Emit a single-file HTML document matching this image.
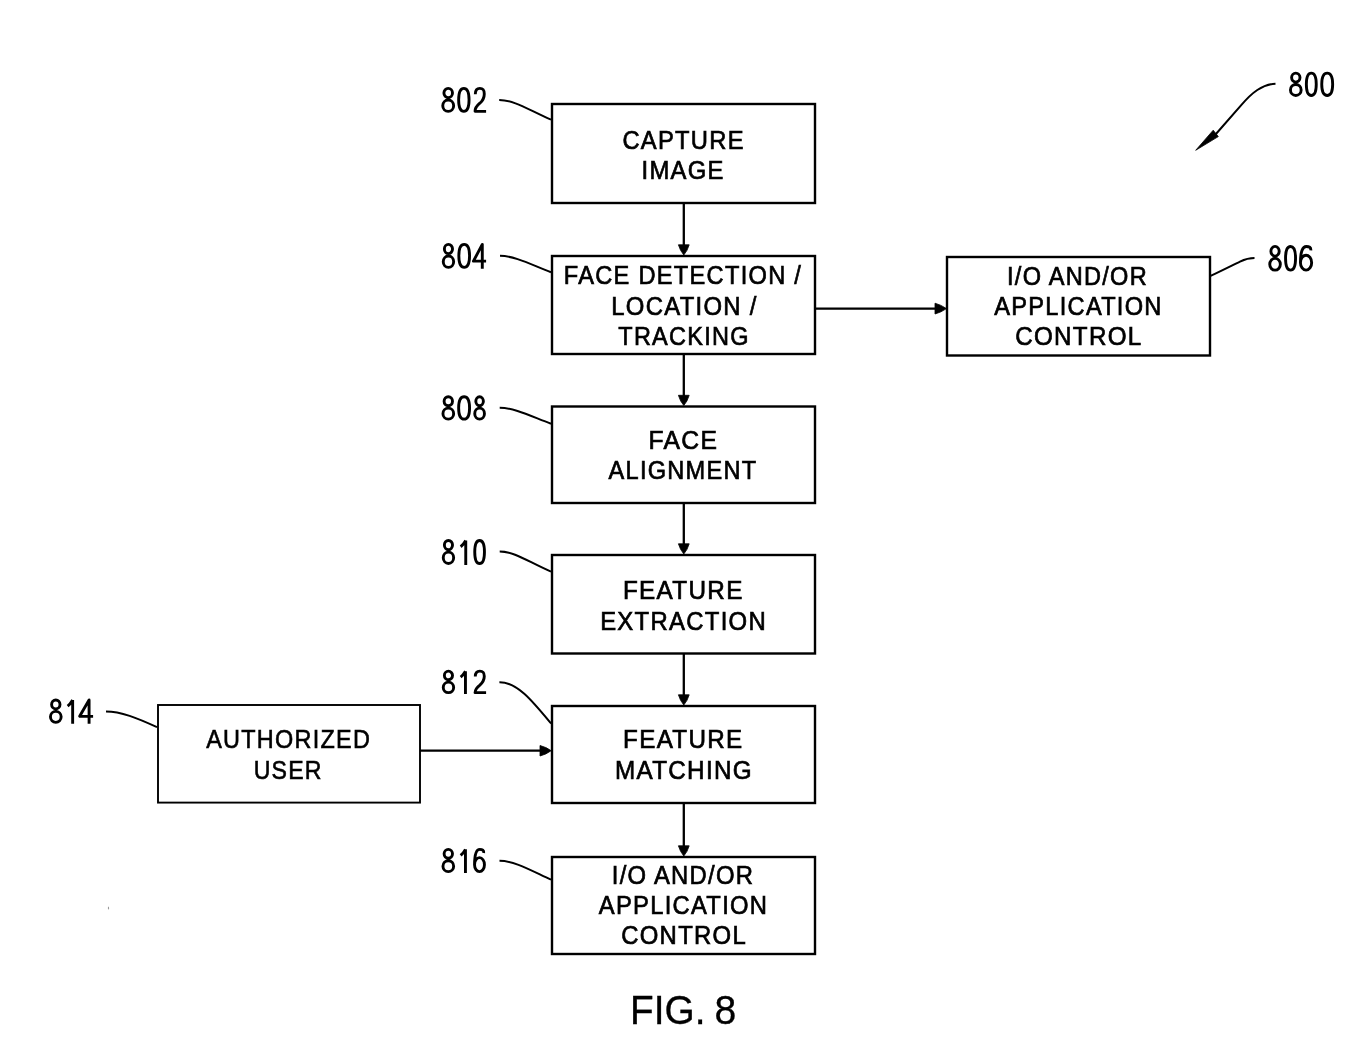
<!DOCTYPE html>
<html><head><meta charset="utf-8">
<style>
html,body{margin:0;padding:0;background:#fff;}
body{width:1366px;height:1054px;overflow:hidden;}
svg{display:block;will-change:transform;}
.t{font-family:"Liberation Sans",sans-serif;font-size:26.0px;fill:#000;stroke:#000;stroke-width:0.7;text-anchor:middle;letter-spacing:1.4px;}
.n{font-family:"Liberation Sans",sans-serif;font-size:37.0px;fill:#000;stroke:#000;stroke-width:1.0;text-anchor:middle;}
.b{fill:none;stroke:#000;stroke-width:2.4;}
.l{fill:none;stroke:#000;stroke-width:2.0;}
.a{fill:none;stroke:#000;stroke-width:2.3;}
</style></head><body>
<svg width="1366" height="1054" viewBox="0 0 1366 1054">

<rect class="b" x="552" y="104" width="263" height="99"/>
<rect class="b" x="552" y="256" width="263" height="98"/>
<rect class="b" x="947" y="257" width="263" height="98.5"/>
<rect class="b" x="552" y="406.5" width="263" height="96.5"/>
<rect class="b" x="552" y="555" width="263" height="98.5"/>
<rect class="b" x="552" y="706" width="263" height="97"/>
<rect class="b" x="158" y="705" width="262" height="97.6" style="stroke-width:1.9"/>
<rect class="b" x="552" y="857" width="263" height="97"/>
<g class="a">
<path d="M683.8,203 V246"/>
<path d="M683.8,354 V396.5"/>
<path d="M683.8,503.0 V545"/>
<path d="M683.8,653.5 V696"/>
<path d="M683.8,803 V847"/>
<path d="M815,308.6 H938"/>
<path d="M420,750.7 H542"/>
</g><g fill="#000" stroke="#000" stroke-width="0.8" stroke-linejoin="round">
<path d="M678.40,244.80 L689.20,244.80 Q687.40,251.00 683.80,255.00 Q680.20,251.00 678.40,244.80 Z"/>
<path d="M678.40,395.30 L689.20,395.30 Q687.40,401.50 683.80,405.50 Q680.20,401.50 678.40,395.30 Z"/>
<path d="M678.40,543.80 L689.20,543.80 Q687.40,550.00 683.80,554.00 Q680.20,550.00 678.40,543.80 Z"/>
<path d="M678.40,694.80 L689.20,694.80 Q687.40,701.00 683.80,705.00 Q680.20,701.00 678.40,694.80 Z"/>
<path d="M678.40,845.80 L689.20,845.80 Q687.40,852.00 683.80,856.00 Q680.20,852.00 678.40,845.80 Z"/>
<path d="M935,303.2 L935,314 Q941,312.4 946.5,308.6 Q941,304.8 935,303.2 Z"/>
<path d="M540,745.5 L540,756 Q546,754.5 551.2,750.7 Q546,747 540,745.5 Z"/>
</g>
<g class="l">
<path d="M499.2,100 C514.5,100 529,110.2 551,119.7"/>
<path d="M500,255.8 C515,256 530.5,264.3 551,272.2"/>
<path d="M499.7,407.8 C514.7,407.8 530.5,416 551,423.7"/>
<path d="M499.7,551.5 C515,551.5 529,562.3 551,571.6"/>
<path d="M499.4,682.2 C517,682 532,700.5 551,723.5"/>
<path d="M499.5,860.8 C514.5,860.8 530.5,870.2 551,879.7"/>
<path d="M106,711.5 C121,711.5 137,718 157,727.2"/>
<path d="M1210,276.2 C1222,270.5 1233,265 1240,261.6 C1246,258.8 1250,258.1 1254.5,258.1"/>
<path d="M1275.5,83.7 C1262,84.5 1252,92.5 1241,105.4 L1215.5,134.5"/>
</g>
<path d="M1195.7,150.3 L1213.2,130.2 L1218.3,136.6 Z" fill="#000" stroke="#000" stroke-width="0.8" stroke-linejoin="round"/>
<g class="t">
<text transform="translate(683.60,148.60) scale(0.9133,1)">CAPTURE</text>
<text transform="translate(683.10,178.70) scale(0.9160,1)">IMAGE</text>
<text transform="translate(683.00,284.10) scale(0.9094,1)">FACE DETECTION /</text>
<text transform="translate(684.45,315.10) scale(0.9190,1)">LOCATION /</text>
<text transform="translate(684.00,344.80) scale(0.9030,1)">TRACKING</text>
<text transform="translate(1077.50,285.10) scale(0.9062,1)">I/O AND/OR</text>
<text transform="translate(1078.45,315.20) scale(0.9087,1)">APPLICATION</text>
<text transform="translate(1078.90,345.20) scale(0.9305,1)">CONTROL</text>
<text transform="translate(683.30,448.80) scale(0.9504,1)">FACE</text>
<text transform="translate(683.00,478.90) scale(0.9073,1)">ALIGNMENT</text>
<text transform="translate(683.30,598.50) scale(0.9350,1)">FEATURE</text>
<text transform="translate(683.60,629.50) scale(0.9195,1)">EXTRACTION</text>
<text transform="translate(683.30,748.00) scale(0.9319,1)">FEATURE</text>
<text transform="translate(683.95,779.40) scale(0.9332,1)">MATCHING</text>
<text transform="translate(288.65,747.50) scale(0.9019,1)" style="stroke-width:0.6">AUTHORIZED</text>
<text transform="translate(288.20,779.00) scale(0.8884,1)" style="stroke-width:0.6">USER</text>
<text transform="translate(683.00,883.90) scale(0.9160,1)">I/O AND/OR</text>
<text transform="translate(683.50,914.40) scale(0.9147,1)">APPLICATION</text>
<text transform="translate(684.10,944.10) scale(0.9196,1)">CONTROL</text>
</g>
<g fill="none" stroke="#000" stroke-width="2.9" stroke-linejoin="round">
<path d="M443.92,92.99 A4.28,4.64 0 1,0 452.48,92.99 A4.28,4.64 0 1,0 443.92,92.99 Z M442.75,105.68 A5.45,5.67 0 1,0 453.65,105.68 A5.45,5.67 0 1,0 442.75,105.68 Z"/>
<path d="M463.85,88.35 C467.07,88.35 469.05,91.57 469.05,99.85 C469.05,108.13 467.07,111.35 463.85,111.35 C460.63,111.35 458.65,108.13 458.65,99.85 C458.65,91.57 460.63,88.35 463.85,88.35 Z"/>
<path d="M475.30,94.15 C475.30,89.49 477.35,88.35 479.85,88.35 C482.98,88.35 484.28,89.75 484.28,93.89 C484.28,97.78 482.98,100.37 479.85,103.22 C476.10,106.33 475.05,108.91 475.05,111.35 H486.10"/>
<path d="M444.38,248.99 A4.07,4.64 0 1,0 452.52,248.99 A4.07,4.64 0 1,0 444.38,248.99 Z M443.25,261.68 A5.20,5.67 0 1,0 453.65,261.68 A5.20,5.67 0 1,0 443.25,261.68 Z"/>
<path d="M464.20,244.35 C467.52,244.35 469.55,247.57 469.55,255.85 C469.55,264.13 467.52,267.35 464.20,267.35 C460.88,267.35 458.85,264.13 458.85,255.85 C458.85,247.57 460.88,244.35 464.20,244.35 Z"/>
<path d="M482.29,268.80 V244.35 L473.45,261.16 H486.10"/>
<path d="M444.11,401.25 A4.19,4.50 0 1,0 452.49,401.25 A4.19,4.50 0 1,0 444.11,401.25 Z M442.95,413.64 A5.35,5.51 0 1,0 453.65,413.64 A5.35,5.51 0 1,0 442.95,413.64 Z"/>
<path d="M464.10,396.75 C467.48,396.75 469.55,399.89 469.55,407.95 C469.55,416.01 467.48,419.15 464.10,419.15 C460.72,419.15 458.65,416.01 458.65,407.95 C458.65,399.89 460.72,396.75 464.10,396.75 Z"/>
<path d="M475.82,401.25 A3.78,4.50 0 1,0 483.38,401.25 A3.78,4.50 0 1,0 475.82,401.25 Z M474.75,413.64 A4.85,5.51 0 1,0 484.45,413.64 A4.85,5.51 0 1,0 474.75,413.64 Z"/>
<path d="M444.38,545.09 A4.07,4.64 0 1,0 452.52,545.09 A4.07,4.64 0 1,0 444.38,545.09 Z M443.25,557.78 A5.20,5.67 0 1,0 453.65,557.78 A5.20,5.67 0 1,0 443.25,557.78 Z"/>
<path d="M465.75,564.90 V540.45 M465.75,540.45 Q463.35,544.70 460.65,546.77"/>
<path d="M479.60,540.45 C482.61,540.45 484.45,543.67 484.45,551.95 C484.45,560.23 482.61,563.45 479.60,563.45 C476.59,563.45 474.75,560.23 474.75,551.95 C474.75,543.67 476.59,540.45 479.60,540.45 Z"/>
<path d="M444.38,675.43 A4.07,4.28 0 1,0 452.52,675.43 A4.07,4.28 0 1,0 444.38,675.43 Z M443.25,687.39 A5.20,5.26 0 1,0 453.65,687.39 A5.20,5.26 0 1,0 443.25,687.39 Z"/>
<path d="M465.45,694.10 V671.15 M465.45,671.15 Q463.14,675.07 460.65,677.02"/>
<path d="M475.30,676.53 C475.30,672.14 477.35,671.15 479.85,671.15 C482.98,671.15 484.28,672.38 484.28,676.29 C484.28,679.95 482.98,682.39 479.85,685.07 C476.10,688.00 475.05,690.44 475.05,692.65 H486.10"/>
<path d="M444.11,853.82 A4.19,4.47 0 1,0 452.49,853.82 A4.19,4.47 0 1,0 444.11,853.82 Z M442.95,866.17 A5.35,5.48 0 1,0 453.65,866.17 A5.35,5.48 0 1,0 442.95,866.17 Z"/>
<path d="M465.45,873.10 V849.35 M465.45,849.35 Q463.14,853.44 460.65,855.46"/>
<path d="M474.55,864.66 A4.95,6.99 0 1,0 484.45,864.66 A4.95,6.99 0 1,0 474.55,864.66 Z M474.55,864.66 C474.55,854.20 476.30,849.35 479.76,849.35 C482.32,849.35 484.11,850.17 483.68,852.94"/>
<path d="M51.61,704.45 A4.19,4.50 0 1,0 59.99,704.45 A4.19,4.50 0 1,0 51.61,704.45 Z M50.45,716.84 A5.35,5.51 0 1,0 61.15,716.84 A5.35,5.51 0 1,0 50.45,716.84 Z"/>
<path d="M72.65,723.80 V699.95 M72.65,699.95 Q70.28,704.07 67.65,706.09"/>
<path d="M89.08,723.80 V699.95 L79.65,716.34 H93.10"/>
<path d="M1270.90,251.25 A4.15,4.80 0 1,0 1279.20,251.25 A4.15,4.80 0 1,0 1270.90,251.25 Z M1269.75,264.29 A5.30,5.87 0 1,0 1280.35,264.29 A5.30,5.87 0 1,0 1269.75,264.29 Z"/>
<path d="M1290.55,246.45 C1293.65,246.45 1295.55,249.77 1295.55,258.30 C1295.55,266.83 1293.65,270.15 1290.55,270.15 C1287.45,270.15 1285.55,266.83 1285.55,258.30 C1285.55,249.77 1287.45,246.45 1290.55,246.45 Z"/>
<path d="M1300.45,262.69 A5.60,7.46 0 1,0 1311.65,262.69 A5.60,7.46 0 1,0 1300.45,262.69 Z M1300.45,262.69 C1300.45,251.65 1302.53,246.45 1306.33,246.45 C1309.15,246.45 1311.13,247.39 1310.80,250.32"/>
<path d="M1291.61,77.62 A4.19,4.47 0 1,0 1299.99,77.62 A4.19,4.47 0 1,0 1291.61,77.62 Z M1290.45,89.97 A5.35,5.48 0 1,0 1301.15,89.97 A5.35,5.48 0 1,0 1290.45,89.97 Z"/>
<path d="M1311.30,73.15 C1314.37,73.15 1316.25,76.27 1316.25,84.30 C1316.25,92.33 1314.37,95.45 1311.30,95.45 C1308.23,95.45 1306.35,92.33 1306.35,84.30 C1306.35,76.27 1308.23,73.15 1311.30,73.15 Z"/>
<path d="M1327.20,73.15 C1330.58,73.15 1332.65,76.27 1332.65,84.30 C1332.65,92.33 1330.58,95.45 1327.20,95.45 C1323.82,95.45 1321.75,92.33 1321.75,84.30 C1321.75,76.27 1323.82,73.15 1327.20,73.15 Z"/>
</g>
<g style="font-family:'Liberation Sans',sans-serif;font-size:40px;stroke:#000;stroke-width:0.3">
<text transform="translate(630.00,1024.3) scale(0.97,1)">FIG.</text>
<text transform="translate(714.50,1024.3) scale(0.98,1)">8</text>
</g>
<ellipse cx="108.5" cy="908" rx="0.6" ry="1.6" fill="#999"/>
</svg>
</body></html>
